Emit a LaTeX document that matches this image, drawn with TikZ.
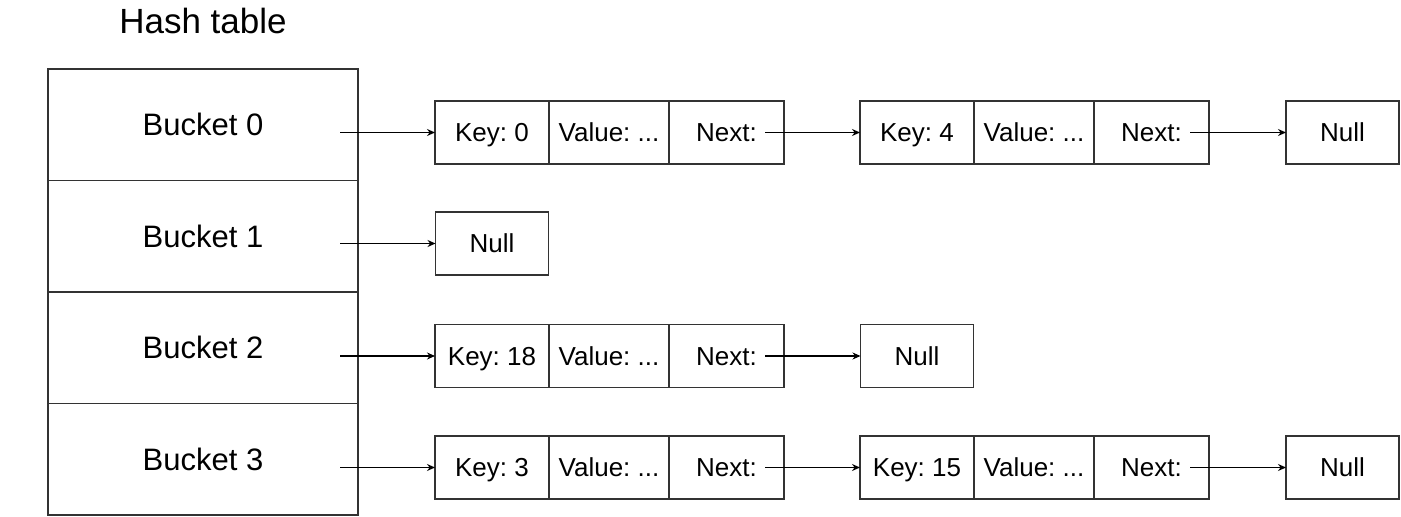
\documentclass[tikz,border=0pt]{standalone}
\usepackage{fontspec}
\setmainfont{Liberation Sans}
\frenchspacing
\usetikzlibrary{positioning,arrows.meta}

\tikzset{
	cell/.style={draw=black!80, line width=1.4pt, outer sep=0pt, inner sep=0pt, minimum height=63pt, font=\fontsize{26}{31}\selectfont, text height=18.7pt, text depth=0pt},
	keycell/.style={cell, minimum width=114pt},
	valcell/.style={cell, minimum width=120pt},
	nextcell/.style={cell, minimum width=115pt},
	nullcell/.style={cell, minimum width=113pt},
	bucket/.style={draw=black!80, line width=1.4pt, outer sep=0pt, inner sep=0pt, minimum width=310pt, minimum height=111.5pt, font=\fontsize{31}{37}\selectfont, text height=22pt, text depth=0pt},
	link/.style={black, line width=1.3pt, -{Stealth[length=8pt,width=7pt]}}
}

\begin{document}
\begin{tikzpicture}[x=1pt,y=-1pt]
	\useasboundingbox (0,0) rectangle (1401,517);
	\node (Title) at (203,33) [anchor=base, font=\fontsize{35}{42}\selectfont] {Hash table};

	% hash table
	\node (B0) at (203,124.75) [bucket] {Bucket 0};
	\node (B1) [bucket, below=0pt of B0] {Bucket 1};
	\node (B2) [bucket, below=0pt of B1] {Bucket 2};
	\node (B3) [bucket, below=0pt of B2] {Bucket 3};

	% bucket 0
	\node (K0a) at (492,132.5) [keycell] {Key: 0};
	\node (V0a) [valcell, right=0pt of K0a] {Value: ...};
	\node (N0a) [nextcell, right=0pt of V0a] {Next:};
	\node (K0b) at (917,132.5) [keycell] {Key: 4};
	\node (V0b) [valcell, right=0pt of K0b] {Value: ...};
	\node (N0b) [nextcell, right=0pt of V0b] {Next:};
	\node (Null0) at (1342.5,132.5) [nullcell] {Null};

	% bucket 1
	\node (Null1) at (492,243.5) [nullcell] {Null};

	% bucket 2
	\node (K2) at (492,356) [keycell] {Key: 18};
	\node (V2) [valcell, right=0pt of K2] {Value: ...};
	\node (N2) [nextcell, right=0pt of V2] {Next:};
	\node (Null2) at (917,356) [nullcell] {Null};

	% bucket 3
	\node (K3a) at (492,467.5) [keycell] {Key: 3};
	\node (V3a) [valcell, right=0pt of K3a] {Value: ...};
	\node (N3a) [nextcell, right=0pt of V3a] {Next:};
	\node (K3b) at (917,467.5) [keycell] {Key: 15};
	\node (V3b) [valcell, right=0pt of K3b] {Value: ...};
	\node (N3b) [nextcell, right=0pt of V3b] {Next:};
	\node (Null3) at (1342.5,467.5) [nullcell] {Null};

	\coordinate (P0) at (340,132.5);
	\coordinate (P1) at (340,243.5);
	\coordinate (P2) at (340,356);
	\coordinate (P3) at (340,467.5);

	\draw[link] (P0) -- (K0a.west);
	\draw[link] (P1) -- (Null1.west);
	\draw[link] (P2) -- (K2.west);
	\draw[link] (P3) -- (K3a.west);

	\draw[link] ([xshift=-19pt]N0a.east) -- (K0b.west);
	\draw[link] ([xshift=-19pt]N0b.east) -- (Null0.west);
	\draw[link] ([xshift=-19pt]N2.east) -- (Null2.west);
	\draw[link] ([xshift=-19pt]N3a.east) -- (K3b.west);
	\draw[link] ([xshift=-19pt]N3b.east) -- (Null3.west);
\end{tikzpicture}
\end{document}
